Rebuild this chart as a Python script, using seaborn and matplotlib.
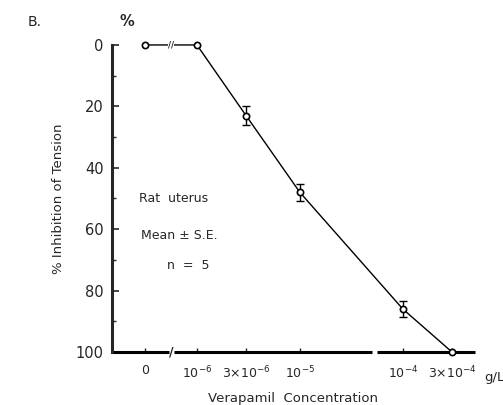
import numpy as np
import pandas as pd
import matplotlib
matplotlib.use("Agg")
import matplotlib.pyplot as plt
import matplotlib.transforms as mtransforms
import seaborn as sns

# ---- data ----
concentration_labels = ["0", "$10^{-6}$", "$3{\\times}10^{-6}$", "$10^{-5}$", "$10^{-4}$", "$3{\\times}10^{-4}$"]
concentration = [0.0, 1e-6, 3e-6, 1e-5, 1e-4, 3e-4]
inhibition = [0.0, 0.0, 23.0, 48.0, 86.0, 100.0]
sem = [0.0, 0.0, 3.2, 2.8, 2.6, 0.0]
y_ticks = [0, 20, 40, 60, 80, 100]

# position used for the "0" concentration on the broken log axis
ZERO_POS = 10 ** -6.5
xpos = [ZERO_POS if c == 0 else c for c in concentration]

df = pd.DataFrame({"x": xpos, "y": inhibition, "err": sem})

sns.set_style("ticks")
plt.rcParams["font.family"] = ["DejaVu Sans"]

fig = plt.figure(figsize=(5.03, 4.05), dpi=100)
ax = fig.add_axes([0.2227, 0.131, 0.944 - 0.2227, 0.889 - 0.131])

sns.lineplot(data=df, x="x", y="y", ax=ax, color="black", linewidth=1.0,
             marker="o", markersize=4.5, markerfacecolor="white",
             markeredgecolor="black", markeredgewidth=1.2, clip_on=False,
             zorder=3)
mask = df["err"] > 0
ax.errorbar(df["x"][mask], df["y"][mask], yerr=df["err"][mask], fmt="none",
            ecolor="black", elinewidth=1.0, capsize=3, capthick=1.0, zorder=2)

ax.set_xscale("log")
ax.set_xlim(10 ** -6.825, 10 ** -3.30)
ax.set_ylim(100, 0)

ax.set_xticks(xpos)
ax.set_xticklabels(concentration_labels, fontsize=9)
ax.xaxis.set_minor_locator(matplotlib.ticker.NullLocator())
ax.set_yticks(y_ticks)
ax.set_yticklabels([str(v) for v in y_ticks], fontsize=10.5)
ax.set_yticks([10, 30, 50, 70, 90], minor=True)
ax.tick_params(axis="y", which="major", direction="in", length=5, width=1.2, pad=6)
ax.tick_params(axis="y", which="minor", direction="in", length=3, width=1.0)
ax.tick_params(axis="x", which="major", direction="in", length=3, width=1.0, pad=9)

for s in ["top", "right", "bottom"]:
    ax.spines[s].set_visible(False)
ax.spines["left"].set_linewidth(2.2)

# broken bottom axis drawn as segments
trans = mtransforms.blended_transform_factory(ax.transData, ax.transAxes)
segs = [(10 ** -6.825, 10 ** -6.27), (10 ** -6.22, 10 ** -4.30), (10 ** -4.25, 10 ** -3.30)]
for a, b in segs:
    ax.plot([a, b], [0, 0], transform=trans, color="black", linewidth=2.2,
            clip_on=False, solid_capstyle="butt")
ax.text(10 ** -6.245, 0.0, "/", transform=trans, ha="center", va="center",
        fontsize=9, fontweight="bold")
# break mark on the data line
ax.text(10 ** -6.25, 0, "//", ha="center", va="center", fontsize=6,
        fontweight="bold", zorder=4,
        bbox=dict(facecolor="white", edgecolor="none", pad=0.2))

ax.set_xlabel("Verapamil  Concentration", fontsize=9.5, labelpad=8)
ax.set_ylabel("% Inhibition of Tension", fontsize=9.5)
ax.yaxis.set_label_coords(-0.13, 0.5)

fig.text(127 / 503, 1 - 22 / 405, "%", ha="center", va="center", fontsize=10.5,
         fontweight="bold")
fig.text(35 / 503, 1 - 22 / 405, "B.", ha="center", va="center", fontsize=10)
fig.text(484 / 503, 1 - 378 / 405, "g/L", ha="left", va="center", fontsize=9.5)

ax.text(10 ** -6.23, 50, "Rat  uterus", ha="center", va="center", fontsize=9)
ax.text(10 ** -6.17, 62, "Mean ± S.E.", ha="center", va="center", fontsize=9)
ax.text(10 ** -6.08, 72, "n  =  5", ha="center", va="center", fontsize=9)

fig.savefig("out.png", dpi=100, facecolor="white")
